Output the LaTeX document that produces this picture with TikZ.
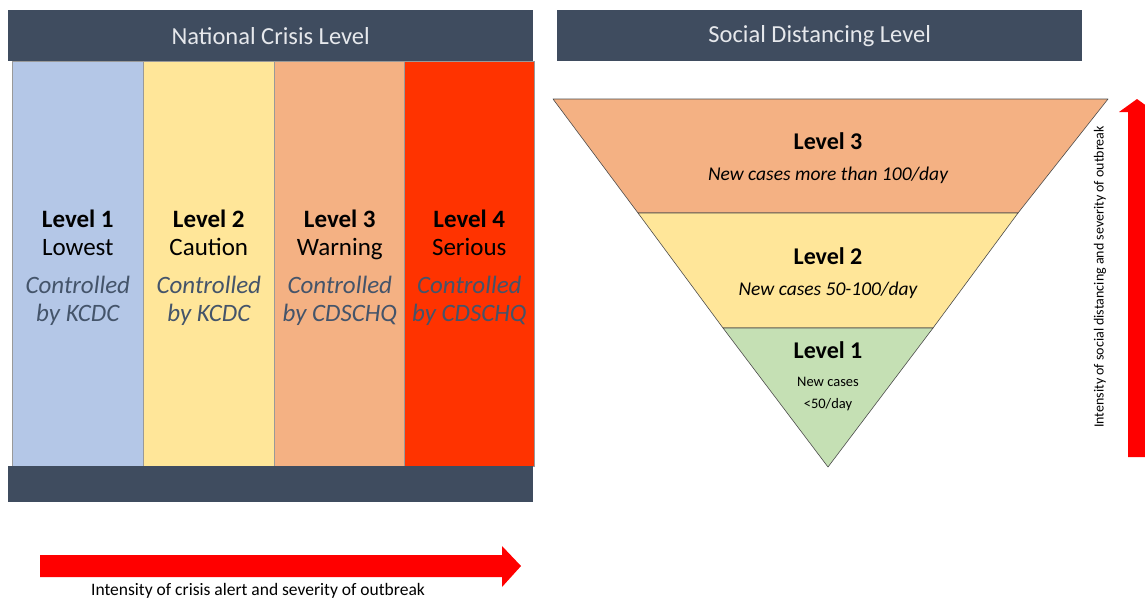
\documentclass[tikz,border=0pt]{standalone}
\usepackage{fontspec}
\setmainfont{Carlito}
\begin{document}
\begin{tikzpicture}[x=1pt,y=-1pt,
  hdr/.style={fill=hdrblue, draw=none, anchor=north west, inner sep=0pt},
  hdrtext/.style={text=hdrfg, font=\fontsize{24.5}{28}\selectfont},
  col/.style={draw=gray!80, line width=0.6pt, anchor=north west, inner sep=0pt,
    minimum width=131pt, minimum height=405pt},
  coltext/.style={align=center, font=\fontsize{25}{27.5}\selectfont},
  band/.style={draw=black!70, line width=0.6pt, line join=round},
  lvl/.style={font=\fontsize{24}{28}\selectfont\bfseries},
  cases/.style={font=\fontsize{19.5}{23}\selectfont\itshape},
  small/.style={font=\fontsize{14.5}{17}\selectfont},
  bigarrow/.style={fill=arrowred, draw=none}
]
\definecolor{hdrblue}{HTML}{3F4C5F}
\definecolor{hdrfg}{HTML}{E6E8EC}
\definecolor{ctrlfg}{HTML}{44546A}
\definecolor{lblue}{HTML}{B4C7E7}
\definecolor{lyellow}{HTML}{FFE699}
\definecolor{lorange}{HTML}{F4B183}
\definecolor{lred}{HTML}{FF3300}
\definecolor{lgreen}{HTML}{C5E0B4}
\definecolor{arrowred}{HTML}{FF0000}

\useasboundingbox (0,0) rectangle (1145,600);

% ---- National crisis level panel ----
\node[hdr, minimum width=525pt, minimum height=51pt] (nhdr) at (8,10) {};
\node[hdrtext] (nhdrtext) at (nhdr.center) {National Crisis Level};

\node[col, fill=lblue]   (c1) at (12,61)  {};
\node[col, fill=lyellow] (c2) at (143,61) {};
\node[col, fill=lorange] (c3) at (274,61) {};
\node[col, fill=lred, minimum width=130pt] (c4) at (404,61) {};

\node[hdr, minimum width=525pt, minimum height=36pt] (nfoot) at (8,466) {};

\newcommand{\ctrltext}[1]{{\color{ctrlfg}\itshape Controlled}\\{\color{ctrlfg}\itshape by #1}}
\node[coltext] (t1) at ([yshift=-4pt]c1.center) {\textbf{Level 1}\\Lowest\\[11pt]\ctrltext{KCDC}};
\node[coltext] (t2) at ([yshift=-4pt]c2.center) {\textbf{Level 2}\\Caution\\[11pt]\ctrltext{KCDC}};
\node[coltext] (t3) at ([yshift=-4pt]c3.center) {\textbf{Level 3}\\Warning\\[11pt]\ctrltext{CDSCHQ}};
\node[coltext] (t4) at ([yshift=-4pt]c4.center) {\textbf{Level 4}\\Serious\\[11pt]\ctrltext{CDSCHQ}};

% horizontal arrow
\fill[bigarrow] (40,555) -- (502,555) -- (502,546) -- (521,566) -- (502,587)
  -- (502,577) -- (40,577) -- cycle;
\node[font=\fontsize{17.5}{20}\selectfont] (hlabel) at (258,591) {Intensity of crisis alert and severity of outbreak};

% ---- Social distancing level panel ----
\node[hdr, minimum width=525pt, minimum height=51pt] (shdr) at (557,10) {};
\node[hdrtext] (shdrtext) at (shdr.center) {Social Distancing Level};

% inverted triangle in three bands
\coordinate (tl) at (553,99);
\coordinate (tr) at (1108,99);
\coordinate (apex) at (828,467);
\coordinate (b3l) at (638,213);
\coordinate (b3r) at (1018,213);
\coordinate (b2l) at (723,328);
\coordinate (b2r) at (933,328);
\filldraw[band, fill=lorange] (tl) -- (tr) -- (b3r) -- (b3l) -- cycle;
\filldraw[band, fill=lyellow] (b3l) -- (b3r) -- (b2r) -- (b2l) -- cycle;
\filldraw[band, fill=lgreen] (b2l) -- (b2r) -- (apex) -- cycle;

\node[lvl] (s3) at (828,141) {Level 3};
\node[cases] (s3c) at (828,175) {New cases more than 100/day};
\node[lvl] (s2) at (828,256) {Level 2};
\node[cases] (s2c) at (828,290) {New cases 50-100/day};
\node[lvl] (s1) at (828,350) {Level 1};
\node[small] (s1c) at (828,382) {New cases};
\node[small] (s1d) at (828,405) {<50/day};

% vertical arrow
\fill[bigarrow] (1128,457) -- (1128,112) -- (1119,112) -- (1137,99) -- (1155,112)
  -- (1147,112) -- (1147,457) -- cycle;
\node[rotate=90, font=\fontsize{14}{17}\selectfont] (vlabel) at (1100,277) {Intensity of social distancing and severity of outbreak};
\end{tikzpicture}
\end{document}
